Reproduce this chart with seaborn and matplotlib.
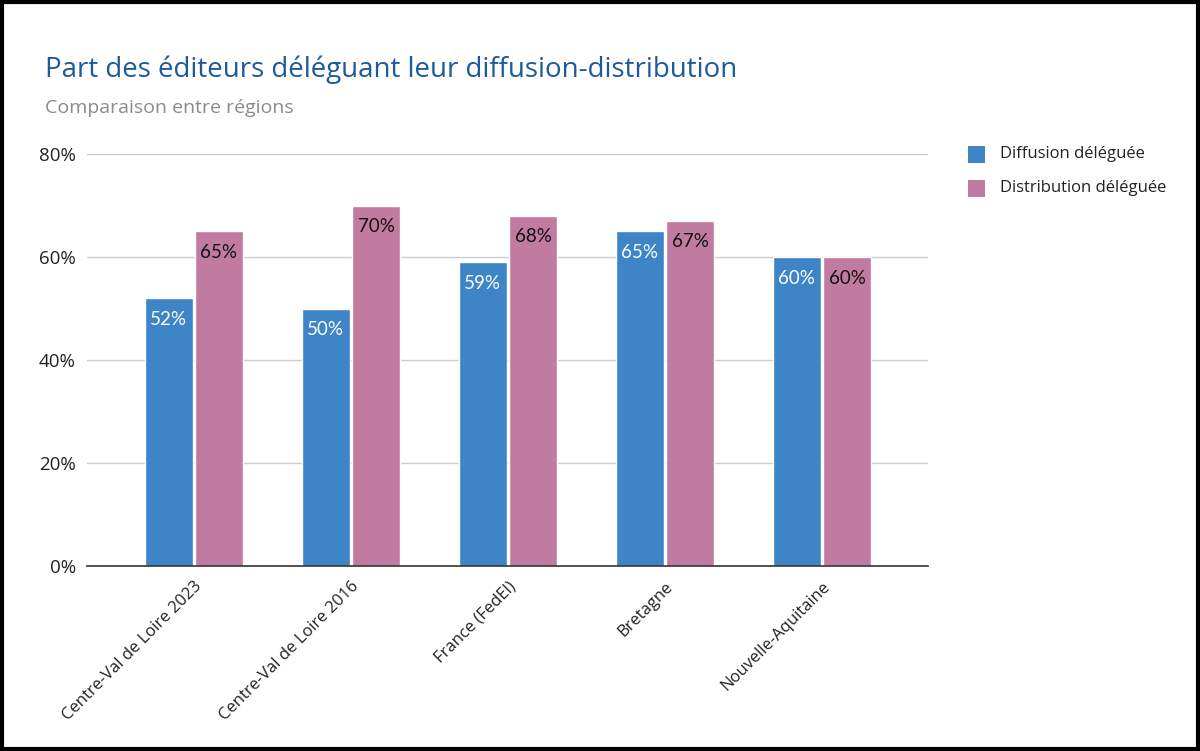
import matplotlib
matplotlib.use("Agg")
import matplotlib.pyplot as plt
import seaborn as sns
import pandas as pd
from matplotlib.patches import Rectangle

categories = ["Centre-Val de Loire 2023", "Centre-Val de Loire 2016", "France (FedEl)",
              "Bretagne", "Nouvelle-Aquitaine"]
diffusion = [0.52, 0.50, 0.59, 0.65, 0.60]
distribution = [0.65, 0.70, 0.68, 0.67, 0.60]
series_names = ["Diffusion déléguée", "Distribution déléguée"]
yticks = [0, 0.2, 0.4, 0.6, 0.8]
ytick_labels = ["0%", "20%", "40%", "60%", "80%"]

df = pd.DataFrame({
    "cat": categories * 2,
    "val": diffusion + distribution,
    "serie": [series_names[0]] * len(categories) + [series_names[1]] * len(categories),
})

sns.set_theme(style="white")
plt.rcParams["font.family"] = ["Open Sans", "DejaVu Sans"]

fig = plt.figure(figsize=(12, 7.51), dpi=100)
ax = fig.add_axes([87 / 1200, 1 - 566 / 751, (928 - 87) / 1200, (566 - 154) / 751])

colors = ["#3d85c6", "#c27ba0"]
sns.barplot(data=df, x="cat", y="val", hue="serie", palette=colors, ax=ax,
            width=0.64, gap=0.05, saturation=1, legend=False)

ax.set_xlim(-0.68, 4.675)
ax.set_ylim(0, 0.8)
ax.set_yticks(yticks)
ax.set_yticklabels(ytick_labels, fontsize=13.5, color="#222222")
ax.yaxis.grid(True, color="#cccccc", linewidth=1)
ax.set_axisbelow(True)
for s in ["top", "right", "left"]:
    ax.spines[s].set_visible(False)
ax.spines["bottom"].set_color("#333333")
ax.spines["bottom"].set_linewidth(1.2)
ax.tick_params(axis="y", length=0, pad=8)
ax.tick_params(axis="x", length=0, pad=9)
ax.set_xticks(range(len(categories)))
ax.set_xticklabels(categories, rotation=45, ha="right", rotation_mode="anchor",
                   fontsize=12, color="#222222")
ax.set_xlabel("")
ax.set_ylabel("")

# data labels
for ci, cont in enumerate(ax.containers):
    tcol = "white" if ci == 0 else "#111111"
    for bar in cont:
        h = bar.get_height()
        ax.annotate(f"{round(h * 100):d}%", (bar.get_x() + bar.get_width() / 2, h),
                    xytext=(0, -9), textcoords="offset points", ha="center", va="top",
                    fontsize=13.5, color=tcol, family=["Lato", "DejaVu Sans"])

# legend
for i, (name, col) in enumerate(zip(series_names, colors)):
    y = 1 - (154 + 34 * i) / 751
    fig.patches.append(Rectangle((968 / 1200, y - 8.5 / 751), 17 / 1200, 17 / 751,
                                 transform=fig.transFigure, facecolor=col, edgecolor="none"))
    fig.text(1000 / 1200, y, name, fontsize=12, color="#222222", va="center", ha="left")

fig.text(45 / 1200, 1 - 70 / 751, "Part des éditeurs déléguant leur diffusion-distribution",
         fontsize=19.9, color="#1c5a9c", va="center", ha="left")
fig.text(45 / 1200, 1 - 108 / 751, "Comparaison entre régions",
         fontsize=14, color="#8a8a8a", va="center", ha="left")

fig.patches.append(Rectangle((0.0015, 0.002), 0.997, 0.996, transform=fig.transFigure,
                             facecolor="none", edgecolor="black", linewidth=3))

fig.savefig("out.png", dpi=100)
